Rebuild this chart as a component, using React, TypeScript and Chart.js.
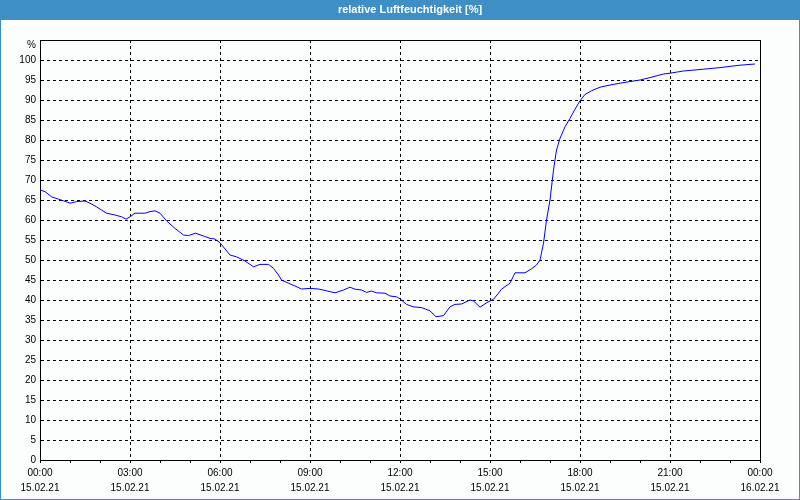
import React, { useEffect, useRef } from "react";
import { Chart, registerables } from "chart.js";

Chart.register(...registerables);

const chartTitle = "relative Luftfeuchtigkeit [%]";
const yUnit = "%";

// minutes since 15.02.21 00:00
const minutes = [
  0, 10, 23, 37, 47, 60, 73, 90, 100, 113, 123, 133, 150, 163, 172, 180, 190, 210, 220, 230,
  240, 253, 270, 287, 297, 311, 327, 340, 350, 360, 380, 393, 410, 427, 440, 457, 467, 477, 483, 497,
  510, 523, 540, 557, 573, 590, 607, 620, 630, 643, 653, 663, 673, 690, 700, 713, 720, 733, 746, 763,
  780, 792, 807, 820, 830, 843, 860, 867, 880, 893, 907, 917, 923, 940, 950, 970, 983, 993, 1000, 1007,
  1013, 1020, 1027, 1033, 1040, 1050, 1060, 1070, 1080, 1090, 1103, 1120, 1140, 1160, 1200, 1220, 1247, 1260, 1287, 1327,
  1360, 1400, 1430,
];

const humidity = [
  67.5, 67.1, 65.8, 65.2, 64.8, 64.2, 64.6, 64.75, 64.2, 63.3, 62.5, 61.7, 61.25, 60.8, 60.2, 60.8, 61.7, 61.7, 62.1, 62.3,
  61.7, 59.8, 57.9, 56.25, 56.1, 56.7, 56.0, 55.4, 55.25, 54.3, 51.25, 50.8, 49.75, 48.3, 48.9, 48.9, 47.9, 46.25, 45.0, 44.2,
  43.5, 42.75, 42.9, 42.75, 42.3, 41.8, 42.5, 43.2, 42.7, 42.5, 41.9, 42.25, 41.8, 41.7, 41.0, 40.8, 40.3, 38.9, 38.3, 38.1,
  37.3, 35.8, 36.1, 38.3, 38.9, 39.0, 40.0, 39.75, 38.2, 39.3, 40.2, 41.7, 42.7, 44.2, 46.8, 46.8, 47.8, 48.75, 50.0, 54.2,
  60.0, 65.0, 72.5, 77.5, 80.4, 83.3, 85.4, 87.7, 89.8, 91.4, 92.3, 93.2, 93.75, 94.2, 95.0, 95.6, 96.5, 96.7, 97.25, 97.7,
  98.1, 98.7, 99.0,
];

const timeLabels = ["00:00", "03:00", "06:00", "09:00", "12:00", "15:00", "18:00", "21:00", "00:00"];
const dateLabels = ["15.02.21", "15.02.21", "15.02.21", "15.02.21", "15.02.21", "15.02.21", "15.02.21", "15.02.21", "16.02.21"];

const FONT = "'Liberation Sans', Arial, sans-serif";
const BLUE = "#3d8fc6";

const framePlugin = {
  id: "frame",
  beforeDraw(chart: any) {
    const { ctx, width, height } = chart;
    ctx.save();
    ctx.fillStyle = "#fcfefd";
    ctx.fillRect(0, 0, width, height);
    ctx.fillStyle = BLUE;
    ctx.fillRect(0, 0, width, 20);
    ctx.fillRect(0, 0, 1, height);
    ctx.fillRect(width - 1, 0, 1, height);
    ctx.fillRect(0, height - 1, width, 1);
    ctx.fillStyle = "#ffffff";
    ctx.font = "bold 11px " + FONT;
    ctx.textAlign = "center";
    ctx.textBaseline = "middle";
    ctx.fillText(chartTitle, 410, 10);
    ctx.restore();
  },
  afterDraw(chart: any) {
    const { ctx, chartArea } = chart;
    ctx.save();
    ctx.strokeStyle = "#000";
    ctx.lineWidth = 1;
    ctx.beginPath();
    ctx.moveTo(chartArea.left, chartArea.top + 0.5);
    ctx.lineTo(chartArea.right + 0.5, chartArea.top + 0.5);
    ctx.lineTo(chartArea.right + 0.5, chartArea.bottom);
    ctx.stroke();
    ctx.fillStyle = "#000";
    ctx.font = "10px " + FONT;
    ctx.textAlign = "right";
    ctx.textBaseline = "middle";
    ctx.fillText(yUnit, chartArea.left - 4, chartArea.top + 5);
    ctx.restore();
  },
};

export default function App() {
  const ref = useRef<HTMLCanvasElement>(null);

  useEffect(() => {
    if (!ref.current) return;
    const data = minutes.map((m, i) => ({ x: m, y: humidity[i] }));
    const chart = new Chart(ref.current, {
      type: "line",
      data: {
        datasets: [
          {
            data,
            borderColor: "#0000ff",
            borderWidth: 1,
            pointRadius: 0,
            tension: 0,
            fill: false,
          },
        ],
      },
      options: {
        animation: false,
        responsive: false,
        maintainAspectRatio: false,
        layout: { padding: { left: 0, top: 40, right: 40, bottom: 0 } },
        plugins: {
          legend: { display: false },
          title: { display: false },
          tooltip: { enabled: false },
        },
        scales: {
          x: {
            type: "linear",
            min: 0,
            max: 1440,
            afterFit: (s: any) => {
              s.height = 40;
            },
            border: { display: true, color: "#000", width: 1, dash: [3, 3] },
            grid: {
              color: (c: any) => (c.tick && c.tick.value % 180 === 0 ? "#000" : "rgba(0,0,0,0)"),
              lineWidth: 1,
              drawTicks: true,
              tickLength: 3,
              tickColor: "#000",
              tickBorderDash: [],
            },
            ticks: {
              stepSize: 60,
              autoSkip: false,
              maxRotation: 0,
              padding: 3,
              color: "#000",
              font: { family: FONT, size: 10, lineHeight: 1.5 },
              callback: (v: any) => {
                const n = Number(v);
                if (n % 180 !== 0) return "";
                const i = n / 180;
                return [timeLabels[i], dateLabels[i]];
              },
            },
          },
          y: {
            min: 0,
            max: 105,
            afterFit: (s: any) => {
              s.width = 40;
            },
            border: { display: true, color: "#000", width: 1, dash: [3, 3] },
            grid: {
              color: "#000",
              lineWidth: 1,
              drawTicks: false,
            },
            ticks: {
              stepSize: 5,
              autoSkip: false,
              padding: 4,
              color: "#000",
              font: { family: FONT, size: 10 },
              callback: (v: any) => (Number(v) > 100 ? "" : String(v)),
            },
          },
        },
      },
      plugins: [framePlugin],
    });
    return () => chart.destroy();
  }, []);

  return (
    <div style={{ position: "absolute", left: 0, top: 0, width: 800, height: 500 }}>
      <canvas ref={ref} width={800} height={500} style={{ display: "block" }} />
    </div>
  );
}
